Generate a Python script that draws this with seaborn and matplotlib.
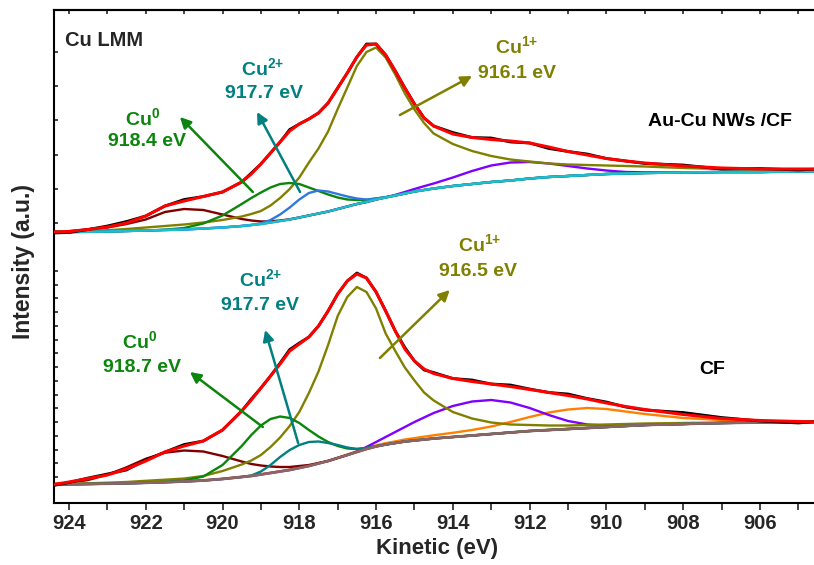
import numpy as np
import pandas as pd
import matplotlib
matplotlib.use("Agg")
import matplotlib.pyplot as plt
from matplotlib import font_manager
import seaborn as sns

# kinetic energy grid (eV)
energy = [924.4, 924.0, 923.5, 923.0, 922.5, 922.0, 921.5, 921.0, 920.5, 920.0,
          919.5, 919.25, 919.0, 918.75, 918.5, 918.25, 918.0, 917.75, 917.5, 917.25,
          917.0, 916.75, 916.5, 916.25, 916.0, 915.75, 915.5, 915.25, 915.0, 914.75,
          914.5, 914.0, 913.5, 913.0, 912.5, 912.0, 911.5, 911.0, 910.5, 910.0,
          909.5, 909.0, 908.0, 907.0, 906.0, 905.0, 904.5]

# ---- Au-Cu NWs /CF (upper trace, offset) ----
nw_bg = [271, 271, 271.2, 271.5, 272, 272.5, 273, 273.5, 274.5, 275.5,
         277, 278, 279, 280.5, 282, 283.5, 285.5, 287.5, 289.5, 291.5,
         294, 296.5, 299, 301, 303.5, 305.5, 307.5, 309.5, 311.5, 313,
         314.5, 317, 319, 321, 322.5, 324.5, 326, 327, 328, 329,
         329.5, 330, 330.5, 331, 331, 331.5, 331.5]
nw_raw = [270, 270.5, 273.5, 277, 281.5, 287, 297, 303.5, 306.5, 311,
          321, 330, 339, 350, 361, 373.5, 379, 384, 390, 400,
          415, 430, 446, 459, 459, 448, 432, 415, 399, 385,
          377, 370.5, 365.5, 365, 361, 360, 354.5, 351.5, 349, 344.5,
          342, 339.5, 338, 334, 334.5, 333, 334]
nw_fit = [271, 271.5, 273.5, 276, 280, 287, 297, 302, 306.5, 311,
          321, 329, 339, 350, 361, 372, 379, 384, 390, 400,
          415, 430, 446, 458, 459, 448, 432, 415, 399, 385,
          377, 369, 365.5, 363.5, 362, 360, 356, 351.5, 348, 344.5,
          342, 340, 337, 335, 334, 334, 334]
nw_p1 = [0.3, 0.8, 2.5, 4, 7, 11, 18, 20.5, 18.5, 13,
         7, 4.5, 2.5, 1.2, 0.5, 0.2] + [0] * 31
nw_cu0 = [0] * 6 + [0.3, 1.5, 5, 12, 22, 27, 31.5, 35, 37, 36.5,
                    33.5, 28, 22.5, 17, 11.5, 7, 4, 2, 1, 0.4] + [0] * 21
nw_cu2 = [0] * 12 + [0.5, 2.5, 6.5, 12, 18, 22.5, 23, 20, 15, 10,
                     5.5, 2.5, 1, 0.3] + [0] * 21
nw_cu1 = [0.5, 0.7, 1, 1.3, 2, 3, 4, 5, 6, 7.5,
          9.5, 11, 13, 17, 23, 30.5, 40, 53, 65, 80,
          100, 119, 138, 150, 152, 140, 121, 100, 82, 67,
          55, 42, 33, 26, 21, 17, 13.5, 11.5, 10, 8.5,
          7.5, 6.5, 4.5, 3, 2, 1, 0.8]
nw_p2 = [0] * 25 + [0.2, 0.6, 1.5, 2.5, 3.8, 5, 8.5, 13, 16.5, 18,
                    16.5, 13.5, 10, 6.5, 3.5, 1.5, 0.7, 0.2] + [0] * 4

# ---- CF (lower trace) ----
cf_bg = [18.5, 18.7, 19, 19.3, 19.7, 20.2, 20.8, 21.5, 22.5, 24,
         26, 27, 28.5, 30, 31.5, 33, 35, 37, 39.5, 42,
         45, 48, 51, 54, 56.5, 58.5, 60, 61.5, 62.5, 63.5,
         64.5, 66, 67.5, 69, 70.5, 72, 73, 74, 75, 76,
         77, 78, 79, 80, 80.5, 81, 81]
cf_raw = [17.5, 20.5, 25, 29, 33, 43, 51, 58.5, 62, 73,
          92, 104, 115, 127, 140, 153.5, 160, 166, 177, 192,
          209, 222, 230, 225, 211, 192, 172, 155.5, 142, 133,
          130.5, 124.5, 123, 119, 118, 114, 110.5, 109, 104.5, 101,
          96, 93, 90.5, 85.5, 82, 80, 81.5]
cf_fit = [18.5, 21, 24.5, 28, 34, 42, 51, 57, 62, 73,
          92, 103, 115, 127, 139, 152, 159, 166, 177, 192,
          209, 222, 229, 225, 211, 192, 172, 154, 142, 134,
          129.5, 124.5, 121.5, 119, 116.5, 113.5, 110.5, 107.5, 104, 100,
          96.5, 93.5, 88.5, 84.5, 82.5, 81.5, 81]
cf_p1 = [0.5, 1.5, 4, 9, 16, 24, 29.5, 31, 29, 23,
         15.5, 12, 9, 6.5, 4.5, 3, 2, 1, 0.5] + [0] * 28
cf_cu0 = [0] * 6 + [0.3, 1, 4, 14, 31, 41, 49, 54, 55, 52,
                    45, 36, 27, 19, 12, 6.5, 3, 1, 0.3] + [0] * 22
cf_cu2 = [0] * 11 + [0.5, 3, 8, 14.5, 20, 23, 24, 22, 18, 13,
                     7.5, 3, 1, 0.3] + [0] * 22
cf_cu1 = [0.3, 0.5, 0.7, 1, 1.3, 2, 2.5, 3, 4.5, 8,
          12.5, 15.5, 19.5, 26, 34, 44, 56, 73, 92, 116,
          142, 158, 165, 157, 138, 111, 92, 74, 60, 47,
          38, 25, 17, 11.5, 8, 6, 4.5, 3.5, 3, 2.5,
          2, 1.5, 1, 0.5, 0.3, 0.2, 0.2]
cf_p2 = [0] * 22 + [0.5, 2, 4.5, 7.5, 11, 14.5, 18.5, 22, 25.5, 31,
                    34, 34, 30, 23, 15, 8, 3.5, 1.5, 0.5] + [0] * 6
cf_p3 = [0.3] * 21 + [0.5, 0.7, 0.9, 1.1, 1.3, 1.6, 2, 2.4, 2.8, 3.2,
                      4.2, 5.5, 7.5, 10.5, 14, 17.5, 19.5, 20, 18, 14.5,
                      11, 6, 3, 1.5, 0.6, 0.4]

# ---- style ----
sns.set_theme(style="ticks")
names = {f.name for f in font_manager.fontManager.ttflist}
HAS_NARROW = "Liberation Sans Narrow" in names
NARROW = "Liberation Sans Narrow" if HAS_NARROW else "Liberation Sans"
plt.rcParams["font.family"] = ["Liberation Sans", "DejaVu Sans"]
plt.rcParams["mathtext.fontset"] = "custom"
plt.rcParams["mathtext.rm"] = "Liberation Sans:bold"
plt.rcParams["mathtext.bf"] = "Liberation Sans:bold"
plt.rcParams["mathtext.default"] = "bf"

C_OLIVE = "#808000"
C_GREEN = "#0b850b"
C_TEAL = "#008080"
C_BLUE = "#2f78e0"
C_BROWN = "#800000"
C_PURPLE = "#8000ff"
C_ORANGE = "#ff8000"
C_CYAN = "#19bfcc"
C_BASE = "#8c6464"

fig = plt.figure(figsize=(8.14, 5.65), dpi=100)
ax = fig.add_axes([54 / 814, 62 / 565, 762 / 814, 493 / 565])

E = np.array(energy)


def line(y, color, lw=1.7, z=2):
    sns.lineplot(x=E, y=np.asarray(y, dtype=float), ax=ax, color=color, lw=lw,
                 estimator=None, sort=False, zorder=z,
                 solid_joinstyle="round", solid_capstyle="round")


# lower spectrum (CF)
cbg = np.array(cf_bg)
line(cbg + np.array(cf_p3), C_ORANGE)
line(cbg + np.array(cf_p2), C_PURPLE)
line(cbg + np.array(cf_p1), C_BROWN)
line(cbg + np.array(cf_cu1), C_OLIVE)
line(cbg + np.array(cf_cu0), C_GREEN)
line(cbg + np.array(cf_cu2), C_TEAL)
line(cbg, C_BASE, lw=2.0)
line(cf_raw, "black", lw=2.0, z=3)
line(cf_fit, "red", lw=2.2, z=4)

# upper spectrum (Au-Cu NWs /CF)
nbg = np.array(nw_bg)
line(nbg + np.array(nw_p2), C_PURPLE)
line(nbg + np.array(nw_p1), C_BROWN)
line(nbg + np.array(nw_cu1), C_OLIVE)
line(nbg + np.array(nw_cu0), C_GREEN)
line(nbg + np.array(nw_cu2), C_BLUE)
line(nbg, C_CYAN, lw=1.8)
line(nw_raw, "black", lw=2.0, z=3)
line(nw_fit, "red", lw=2.2, z=4)

ax.set_xlim(924.39, 904.54)
ax.set_ylim(0, 493)

# annotations
FS = 14
def label(x, y, s, color, size=FS):
    ax.text(x, y, s, color=color, fontsize=size, fontweight="bold",
            ha="center", va="center", zorder=6)

def arrow(x0, y0, x1, y1, color):
    ax.annotate("", xy=(x1, y1), xytext=(x0, y0), zorder=6,
                arrowprops=dict(arrowstyle="-|>", color=color, lw=1.8,
                                mutation_scale=16, shrinkA=0, shrinkB=0))

ax.text(924.1, 463, "Cu LMM", fontsize=14.5, fontweight="bold", ha="left", va="center")
label(922.07, 385, r"Cu$^{0}$", C_GREEN)
label(921.97, 361, "918.4 eV", C_GREEN)
arrow(919.21, 311, 921.11, 386, C_GREEN)
label(918.95, 435, r"Cu$^{2{+}}$", C_TEAL)
label(918.92, 410, "917.7 eV", C_TEAL)
arrow(917.98, 311, 919.10, 391, C_TEAL)
label(912.33, 457, r"Cu$^{1{+}}$", C_OLIVE)
label(912.33, 430, "916.1 eV", C_OLIVE)
arrow(915.38, 388, 913.50, 427, C_OLIVE)
label(907.04, 381, "Au-Cu NWs /CF", "black", size=14)

label(922.15, 162, r"Cu$^{0}$", C_GREEN)
label(922.1, 136, "918.7 eV", C_GREEN)
arrow(918.95, 76, 920.85, 131, C_GREEN)
label(919.02, 224, r"Cu$^{2{+}}$", C_TEAL)
label(919.02, 197, "917.7 eV", C_TEAL)
arrow(918.03, 60, 918.89, 173, C_TEAL)
label(913.3, 259, r"Cu$^{1{+}}$", C_OLIVE)
label(913.35, 232, "916.5 eV", C_OLIVE)
arrow(915.90, 145, 914.08, 213, C_OLIVE)
label(907.25, 133, "CF", "black", size=14)

# axes cosmetics
for side in ["left", "bottom", "top"]:
    ax.spines[side].set_linewidth(1.5)
    ax.spines[side].set_color("black")
ax.spines["right"].set_visible(False)

ax.set_xticks(np.arange(906, 925, 2))
ax.set_xticks(np.arange(905, 925, 2), minor=True)
ax.tick_params(axis="x", which="both", direction="out", length=5, width=1.2,
               bottom=True, top=False, pad=3)
tick_fs = 16.5 if HAS_NARROW else 14.5
for t in ax.get_xticklabels():
    t.set_fontfamily(NARROW)
    t.set_fontweight("bold")
    t.set_fontsize(tick_fs)

top = ax.secondary_xaxis("top")
top.set_xticks(np.arange(905, 925, 1))
top.tick_params(direction="in", length=3, width=1.2, labeltop=False)
top.spines["top"].set_linewidth(1.5)

yt = list(np.arange(26, 235, 13.75)) + list(np.arange(280, 460, 34.2))
ax.set_yticks(yt)
ax.tick_params(axis="y", direction="in", length=3, width=1.2, labelleft=False)

ax.set_xlabel("Kinetic (eV)", fontsize=18 if HAS_NARROW else 16,
              fontweight="bold", fontfamily=NARROW, va="top")
ax.xaxis.set_label_coords(0.503, -0.071)
ax.set_ylabel("Intensity (a.u.)", fontsize=16.5, fontweight="bold")
ax.yaxis.set_label_coords(-0.025, 0.49)

fig.savefig("out.png", dpi=100)
